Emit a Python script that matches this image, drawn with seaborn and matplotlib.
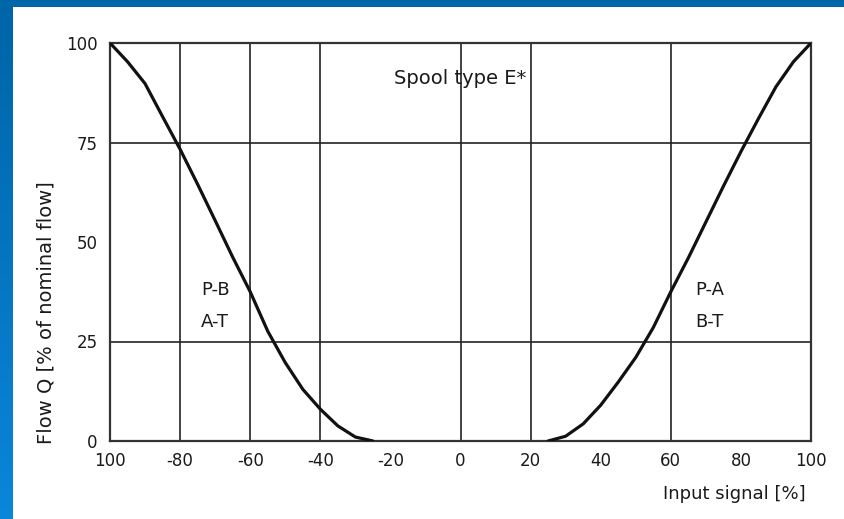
import numpy as np
import pandas as pd
import matplotlib
matplotlib.use("Agg")
import matplotlib.pyplot as plt
import seaborn as sns
from matplotlib.colors import LinearSegmentedColormap

# ---- data ----
left_x = [-100, -95, -90, -85, -80, -75, -70, -65, -60, -55, -50, -45, -40, -35, -30, -25]
left_q = [100, 95.3, 89.8, 81.5, 73.3, 64.5, 55.4, 46.2, 37.5, 27.6, 19.7, 13.0, 8.0, 3.8, 1.0, 0]
right_x = [25, 30, 35, 40, 45, 50, 55, 60, 65, 70, 75, 80, 85, 90, 95, 100]
right_q = [0, 1.2, 4.3, 9.0, 14.8, 21.0, 28.5, 37.5, 46.0, 55.0, 64.0, 72.7, 81.0, 89.0, 95.3, 100]

xtick_pos = [-100, -80, -60, -40, -20, 0, 20, 40, 60, 80, 100]
xtick_lab = ["100", "-80", "-60", "-40", "-20", "0", "20", "40", "60", "80", "100"]
ytick_pos = [0, 25, 50, 75, 100]
ytick_lab = ["0", "25", "50", "75", "100"]
vgrid = [-80, -60, -40, 0, 20, 60]
hgrid = [25, 75]

df = pd.concat([
    pd.DataFrame({"signal": left_x, "flow": left_q, "branch": "P-B"}),
    pd.DataFrame({"signal": right_x, "flow": right_q, "branch": "P-A"}),
])

sns.set_style("white")
plt.rcParams["font.family"] = ["DejaVu Sans"]

W, H = 844, 519
fig = plt.figure(figsize=(W / 100, H / 100), dpi=100)
fig.patch.set_facecolor("white")

# blue frame strips (top and left)
grad = np.linspace(0, 1, 256).reshape(-1, 1)
cmap = LinearSegmentedColormap.from_list("frame", ["#0064A8", "#0A86DA"])
axl = fig.add_axes([0, 0, 13 / W, 1])
axl.imshow(grad, aspect="auto", cmap=cmap, extent=[0, 1, 0, 1], origin="upper")
axl.axis("off")
axt = fig.add_axes([0, 1 - 7 / H, 1, 7 / H])
axt.set_facecolor("#0066AA")
axt.set_xticks([]); axt.set_yticks([])
for s in axt.spines.values():
    s.set_visible(False)

ax = fig.add_axes([110 / W, 78 / H, 701 / W, 398 / H])
ax.set_facecolor("white")

for gx in vgrid:
    ax.axvline(gx, color="#222222", lw=1.2, zorder=1)
for gy in hgrid:
    ax.axhline(gy, color="#222222", lw=1.2, zorder=1)

sns.lineplot(data=df, x="signal", y="flow", units="branch", estimator=None,
             color="#111111", lw=2.3, ax=ax, zorder=3, sort=False)

TC = "#1a1a1a"
ax.set_xlim(-100, 100)
ax.set_ylim(0, 100)
ax.set_xticks(xtick_pos)
ax.set_xticklabels(xtick_lab, fontsize=12, color=TC)
ax.set_yticks(ytick_pos)
ax.set_yticklabels(ytick_lab, fontsize=12, color=TC)
ax.tick_params(axis="both", length=0)
ax.tick_params(axis="x", pad=8)
ax.tick_params(axis="y", pad=9)
for s in ax.spines.values():
    s.set_visible(True)
    s.set_color("#333333")
    s.set_linewidth(1.6)
ax.set_xlabel("")
ax.set_ylabel("")

ax.text(0, 91, "Spool type E*", ha="center", va="center", fontsize=14, color=TC)
ax.text(-70, 38, "P-B", ha="center", va="center", fontsize=13, color=TC)
ax.text(-70, 30, "A-T", ha="center", va="center", fontsize=13, color=TC)
ax.text(71, 38, "P-A", ha="center", va="center", fontsize=13, color=TC)
ax.text(71, 30, "B-T", ha="center", va="center", fontsize=13, color=TC)

fig.text(46 / W, 1 - 313 / H, "Flow Q [% of nominal flow]", rotation=90,
         ha="center", va="center", fontsize=14, color=TC)
fig.text(806 / W, 1 - 494 / H, "Input signal [%]", ha="right", va="center",
         fontsize=13, color=TC)

fig.savefig("out.png", dpi=100)
